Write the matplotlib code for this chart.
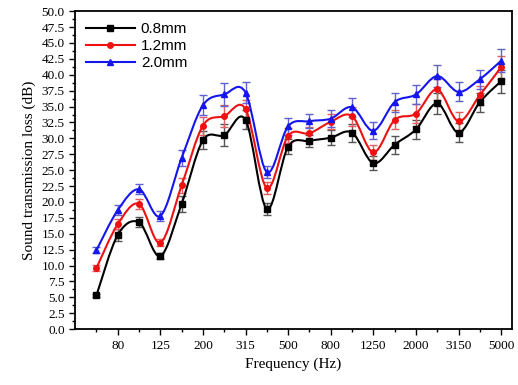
import numpy as np
import matplotlib
matplotlib.use("Agg")
import matplotlib.pyplot as plt
from matplotlib.path import Path
from matplotlib.patches import PathPatch
from matplotlib.lines import Line2D
from matplotlib.ticker import MultipleLocator, FormatStrFormatter

freqs = ["63", "80", "100", "125", "160", "200", "250", "315", "400", "500",
         "630", "800", "1000", "1250", "1600", "2000", "2500", "3150", "4000", "5000"]

stl_08 = [5.3, 14.8, 16.8, 11.5, 19.7, 29.7, 30.5, 32.9, 18.9, 28.7,
          29.6, 30.1, 30.9, 26.1, 29.0, 31.4, 35.5, 30.9, 35.7, 39.0]
stl_12 = [9.6, 16.5, 19.7, 13.6, 22.6, 32.0, 33.5, 34.6, 22.2, 30.4,
          30.8, 32.6, 33.5, 27.8, 32.9, 33.9, 37.7, 32.7, 36.8, 41.2]
stl_20 = [12.4, 18.7, 22.0, 17.8, 26.9, 35.2, 36.9, 37.2, 24.7, 31.9,
          32.7, 33.1, 34.9, 31.2, 35.7, 36.9, 39.8, 37.3, 39.3, 42.2]

err_08 = [0.3, 0.9, 0.8, 0.5, 1.2, 1.4, 1.7, 1.5, 0.9, 1.2,
          1.0, 1.2, 1.4, 1.1, 1.4, 1.5, 1.7, 1.5, 1.5, 1.8]
err_12 = [0.5, 0.8, 0.8, 0.5, 1.2, 1.4, 1.7, 1.5, 0.9, 1.2,
          1.0, 1.2, 1.5, 1.2, 1.5, 1.5, 1.7, 1.5, 1.5, 1.8]
err_20 = [0.5, 0.8, 0.8, 0.8, 1.2, 1.6, 1.8, 1.6, 0.9, 1.3,
          1.1, 1.3, 1.5, 1.3, 1.5, 1.5, 1.8, 1.5, 1.5, 1.8]

labels = ["0.8mm", "1.2mm", "2.0mm"]


def smooth_path(x, y):
    # catmull-rom curve through the points as cubic bezier segments
    p = np.column_stack([x, y])
    ext = np.vstack([p[0], p, p[-1]])
    verts = [p[0]]
    codes = [Path.MOVETO]
    for i in range(len(p) - 1):
        p0, p1, p2, p3 = ext[i], ext[i + 1], ext[i + 2], ext[i + 3]
        c1 = p1 + (p2 - p0) / 6.0
        c2 = p2 - (p3 - p1) / 6.0
        verts += [c1, c2, p2]
        codes += [Path.CURVE4] * 3
    return Path(verts, codes)


plt.rcParams['font.family'] = ['Liberation Serif', 'DejaVu Serif']
fig = plt.figure(figsize=(5.18, 3.85), dpi=100)
ax = fig.add_axes([0.145, 0.145, 0.843, 0.826])

x = np.arange(len(freqs))
series = [
    (stl_08, err_08, "black", "#555555", "s"),
    (stl_12, err_12, "#ee1111", "#e06060", "o"),
    (stl_20, err_20, "#1515ee", "#6060d0", "^"),
]
handles = []
for (vals, errs, col, ecol, mk), lab in zip(series, labels):
    ax.add_patch(PathPatch(smooth_path(x, vals), facecolor="none",
                           edgecolor=col, lw=1.5, zorder=3))
    ax.errorbar(x, vals, yerr=errs, fmt="none", ecolor=ecol, elinewidth=1.0,
                capsize=3, capthick=1.0, zorder=2)
    ax.plot(x, vals, linestyle="none", marker=mk, color=col, markersize=4, zorder=4)
    handles.append(Line2D([], [], color=col, lw=1.5, marker=mk, markersize=4))

ax.set_xlim(-1, 19.5)
ax.set_ylim(0, 50)
ax.set_xticks(x[1::2])
ax.set_xticklabels(freqs[1::2])
ax.set_xticks(x[0::2], minor=True)
ax.yaxis.set_major_locator(MultipleLocator(2.5))
ax.yaxis.set_minor_locator(MultipleLocator(1.25))
ax.yaxis.set_major_formatter(FormatStrFormatter("%.1f"))
ax.tick_params(which="major", direction="out", length=4, width=1, labelsize=9.5)
ax.tick_params(which="minor", direction="out", length=2.5, width=1)
for s in ax.spines.values():
    s.set_linewidth(1.3)

ax.set_xlabel("Frequency (Hz)", fontsize=11)
ax.set_ylabel("Sound transmission loss (dB)", fontsize=11)

leg = ax.legend(handles, labels, loc="upper left", frameon=False,
                handlelength=3.2, prop={"family": "Liberation Sans", "size": 11},
                borderaxespad=0.3, labelspacing=0.2, handletextpad=0.4)

fig.savefig("out.png", dpi=100)
